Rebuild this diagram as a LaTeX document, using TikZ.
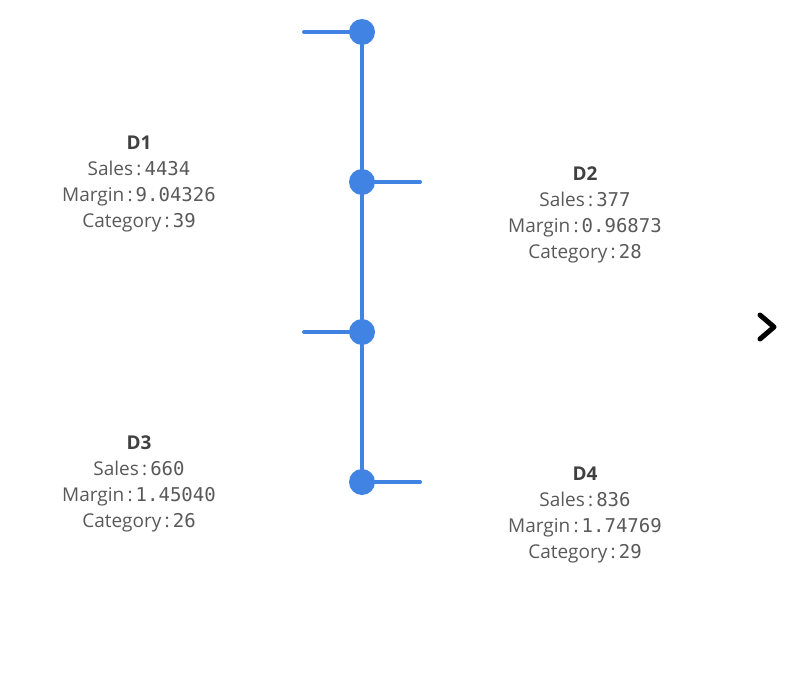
\documentclass[tikz,border=0pt]{standalone}
\usepackage{fontspec}
\setmainfont{Open Sans}
\newfontfamily\numfont{DejaVu Sans Mono}
\definecolor{lineblue}{RGB}{65,131,226}
\definecolor{textgray}{RGB}{89,89,89}
\definecolor{titlegray}{RGB}{64,64,64}
\newcommand{\val}[1]{{\numfont\fontsize{19}{26}\selectfont #1}}
\newcommand{\ttl}[1]{{\bfseries\color{titlegray}#1}}
\begin{document}
\begin{tikzpicture}[x=1pt,y=-1pt,
	dot/.style={circle,fill=lineblue,inner sep=0pt,minimum size=26pt},
	stem/.style={lineblue,line width=4pt,line cap=round},
	info/.style={anchor=base,align=center,text=textgray,font=\fontsize{19}{26}\selectfont}]
	\useasboundingbox (0,0) rectangle (801,693);
	% timeline points and stubs
	\node[dot] (p1) at (362,32) {};
	\node[dot] (p2) at (362,182) {};
	\node[dot] (p3) at (362,332) {};
	\node[dot] (p4) at (362,482) {};
	\coordinate (s1) at (304,32);
	\coordinate (s2) at (420,182);
	\coordinate (s3) at (304,332);
	\coordinate (s4) at (420,482);
	\draw[stem] (p1) -- (p2) -- (p3) -- (p4);
	\draw[stem] (s1) -- (p1);
	\draw[stem] (p2) -- (s2);
	\draw[stem] (s3) -- (p3);
	\draw[stem] (p4) -- (s4);
	% labels (anchored on the last line)
	\node[info] (t1) at (139,227.5) {\ttl{D1}\\Sales\,:\,\val{4434}\\Margin\,:\,\val{9.04326}\\Category\,:\,\val{39}};
	\node[info] (t2) at (585,258.5) {\ttl{D2}\\Sales\,:\,\val{377}\\Margin\,:\,\val{0.96873}\\Category\,:\,\val{28}};
	\node[info] (t3) at (139,527.5) {\ttl{D3}\\Sales\,:\,\val{660}\\Margin\,:\,\val{1.45040}\\Category\,:\,\val{26}};
	\node[info] (t4) at (585,558.5) {\ttl{D4}\\Sales\,:\,\val{836}\\Margin\,:\,\val{1.74769}\\Category\,:\,\val{29}};
	% next arrow
	\draw[line width=5pt,line cap=round,line join=round] (760,315) -- (774,327) -- (760,339);
\end{tikzpicture}
\end{document}
